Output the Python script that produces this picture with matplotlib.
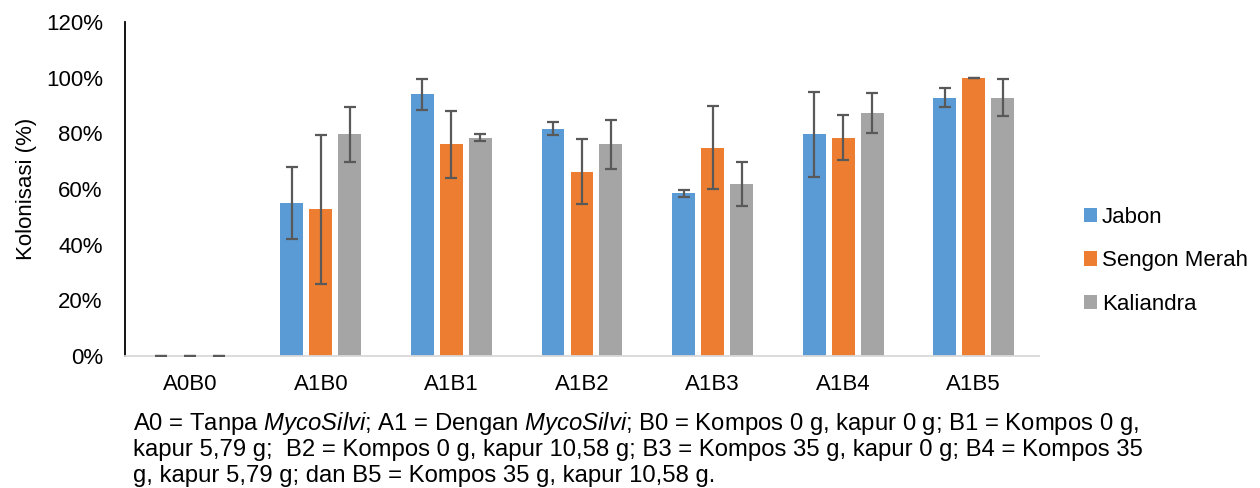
import numpy as np
import matplotlib
matplotlib.use('Agg')
import matplotlib.pyplot as plt

plt.rcParams['font.family'] = ['Liberation Sans', 'DejaVu Sans']
plt.rcParams['mathtext.fontset'] = 'custom'
plt.rcParams['mathtext.rm'] = 'Liberation Sans'
plt.rcParams['mathtext.it'] = 'Liberation Sans:italic'

# data (colonisation %)
categories = ['A0B0', 'A1B0', 'A1B1', 'A1B2', 'A1B3', 'A1B4', 'A1B5']
series = ['Jabon', 'Sengon Merah', 'Kaliandra']
jabon = [0, 55.0, 94.0, 81.7, 58.4, 79.6, 92.8]
sengon = [0, 52.7, 76.1, 66.2, 74.9, 78.5, 100.0]
kaliandra = [0, 79.6, 78.4, 76.1, 61.8, 87.3, 92.8]
jabon_err = [0, 13.0, 5.6, 2.2, 1.2, 15.3, 3.5]
sengon_err = [0, 26.7, 12.0, 11.7, 15.0, 8.1, 0]
kaliandra_err = [0, 10.0, 1.3, 8.8, 7.8, 7.3, 6.7]
yticks = [0, 20, 40, 60, 80, 100, 120]

colors = ['#5B9BD5', '#ED7D31', '#A5A5A5']
fs = 16
fs_note = 17.2

fig = plt.figure(figsize=(12.6, 4.88), dpi=100)
ax = fig.add_axes([0.0992, 0.2705, 0.7254, 0.6844])

x = np.arange(len(categories))
step = 0.222
width = 0.176
vals = [jabon, sengon, kaliandra]
errs = [jabon_err, sengon_err, kaliandra_err]
for i in range(3):
	pos = x + (i - 1) * step
	ax.bar(pos, vals[i], width, color=colors[i], label=series[i], zorder=2)
	ax.errorbar(pos, vals[i], yerr=errs[i], fmt='none', ecolor='#595959',
				elinewidth=1.6, capsize=4.3, capthick=1.6, zorder=3)

ax.set_xlim(-0.5, len(categories) - 0.5)
ax.set_ylim(0, 120)
ax.set_yticks(yticks)
ax.set_yticklabels(['%d%%' % t for t in yticks], fontsize=fs)
ax.set_xticks(x)
ax.set_xticklabels(categories, fontsize=fs)
ax.tick_params(axis='both', length=0)
ax.tick_params(axis='x', pad=13)
ax.tick_params(axis='y', pad=16)
ax.spines['top'].set_visible(False)
ax.spines['right'].set_visible(False)
ax.spines['left'].set_color('black')
ax.spines['left'].set_linewidth(1.3)
ax.spines['bottom'].set_color('#D9D9D9')
ax.spines['bottom'].set_linewidth(1.3)
ax.set_ylabel('Kolonisasi (%)', fontsize=fs, labelpad=6)

ax.legend(loc='center left', bbox_to_anchor=(1.037, 0.285), frameon=False,
		  fontsize=fs, handlelength=0.6, handleheight=0.6, handletextpad=0.2,
		  labelspacing=1.0, borderpad=0)

# footnote
notes = [
	r'A0 = Tanpa $\mathit{MycoSilvi}$; A1 = Dengan $\mathit{MycoSilvi}$; B0 = Kompos 0 g, kapur 0 g; B1 = Kompos 0 g,',
	'kapur 5,79 g;  B2 = Kompos 0 g, kapur 10,58 g; B3 = Kompos 35 g, kapur 0 g; B4 = Kompos 35',
	'g, kapur 5,79 g; dan B5 = Kompos 35 g, kapur 10,58 g.',
]
for k, line in enumerate(notes):
	fig.text(133 / 1260, 1 - (430 + 26 * k) / 488, line, fontsize=fs_note, ha='left', va='baseline')

fig.savefig('out.png', dpi=100)
